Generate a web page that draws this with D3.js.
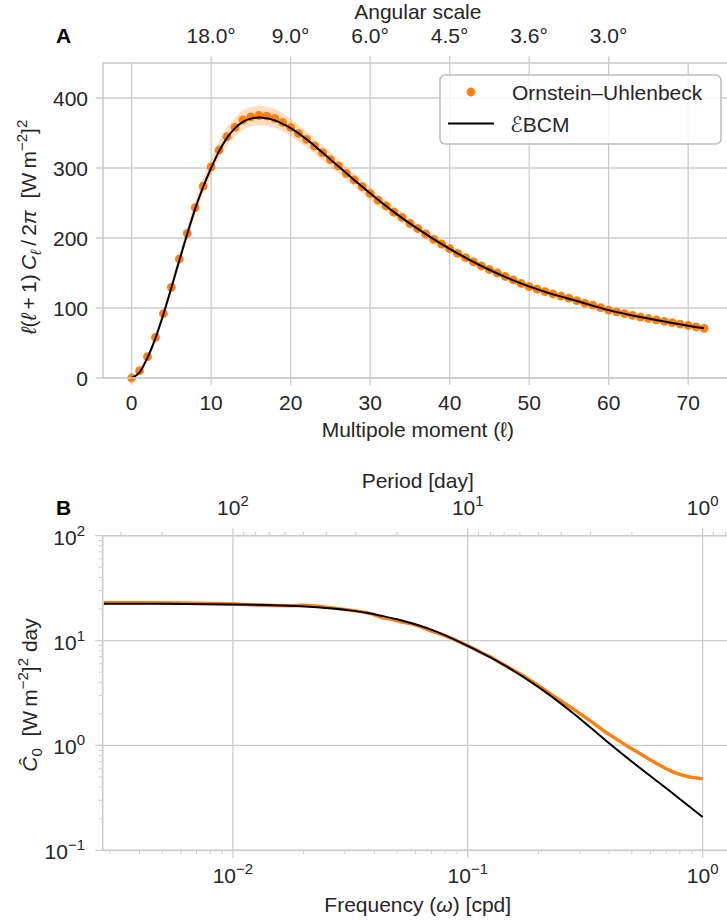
<!DOCTYPE html>
<html>
<head>
<meta charset="utf-8">
<script src="https://cdn.jsdelivr.net/npm/d3@7"></script>
<style>
  body { margin: 0; background: #fff; }
  svg { display: block; }
  text { font-family: 'Liberation Sans', Arial, sans-serif; fill: #262626; white-space: pre; }
</style>
</head>
<body>
<script>
// Panel A: angular power spectrum
const ell = d3.range(0, 73)
const ouPower = [0, 10.5, 30.5, 58, 92, 129.5, 170, 206.7, 243.3, 274,
  301.5, 325.7, 344.8, 358, 368.6, 373, 375, 374, 371, 365,
  358, 349.5, 341, 331.4, 322, 312, 303, 292.4, 282.9, 273.3,
  263.8, 254, 245.7, 237, 229.5, 221, 213.3, 205.7, 198, 191.4,
  184.8, 178, 172, 166, 160, 155, 150, 145, 140, 135,
  130.5, 127, 123.5, 120, 117, 114, 110.5, 107, 104, 100.5,
  97, 94.5, 92, 89.5, 87, 85, 83, 81, 79, 77,
  75, 73, 71]
const ouSpread = [0, 2, 3, 4.5, 6, 7, 8, 9, 10, 11,
  12, 12.5, 13, 13.5, 14, 14, 14, 14, 13.5, 13,
  12.5, 12, 11.5, 11, 11, 10.5, 10, 10, 9.5, 9.5,
  9, 8.5, 8.5, 8, 8, 7.5, 7, 7, 6.5, 6.5,
  6, 6, 5.5, 5.5, 5, 5, 5, 4.5, 4.5, 4.5,
  4, 4, 4, 4, 3.5, 3.5, 3.5, 3.5, 3, 3,
  3, 3, 3, 3, 3, 3, 3, 3, 3, 3,
  3, 3, 3]
const ebcmEll = [0, 1, 2, 3, 4, 5, 6, 7, 8, 9, 10, 11, 12, 13, 14, 15, 16, 17, 18, 19,
  20, 22, 24, 26, 28, 30, 33, 36, 40, 44, 48, 52, 56, 60, 64, 68, 72]
const ebcmPower = [0, 8, 29, 57, 91, 129, 168, 206, 242, 273, 300, 324, 343, 357, 366, 370.5, 372, 371, 368, 363,
  357, 341, 322, 302.5, 283, 264, 237, 213, 184.5, 160, 139.5, 123, 110, 97, 87, 78.5, 71]
const ellTicks = [0, 10, 20, 30, 40, 50, 60, 70]
const powerTicks = [0, 100, 200, 300, 400]
const angEll = [10, 20, 30, 40, 50, 60]
const angLabels = ["18.0°", "9.0°", "6.0°", "4.5°", "3.6°", "3.0°"]

// Panel B: temporal spectrum
const ouFreq = [0.00282, 0.004, 0.006, 0.008, 0.01, 0.012, 0.015, 0.018, 0.02, 0.023,
  0.027, 0.031, 0.035, 0.039, 0.043, 0.047, 0.052, 0.057, 0.063, 0.07,
  0.078, 0.087, 0.095, 0.105, 0.115, 0.125, 0.14, 0.155, 0.17, 0.19,
  0.21, 0.235, 0.26, 0.29, 0.32, 0.35, 0.39, 0.43, 0.48, 0.53,
  0.58, 0.64, 0.7, 0.76, 0.82, 0.88, 0.94, 1.0]
const ouSpec = [23.0, 23.0, 22.8, 22.6, 22.3, 21.9, 21.6, 21.5, 21.8, 21.3,
  20.4, 19.6, 18.9, 18.0, 16.6, 16.0, 15.1, 14.5, 13.6, 12.3,
  11.4, 10.3, 9.4, 8.5, 7.6, 7.0, 6.0, 5.3, 4.7, 4.0,
  3.45, 2.9, 2.5, 2.12, 1.82, 1.58, 1.32, 1.15, 0.98, 0.86,
  0.76, 0.67, 0.6, 0.55, 0.52, 0.5, 0.49, 0.48]
const ebcmFreq = [0.00282, 0.005, 0.0075, 0.01, 0.014, 0.0193, 0.0267, 0.032, 0.0371, 0.0436,
  0.0514, 0.0713, 0.0989, 0.1465, 0.203, 0.282, 0.388, 0.538, 0.745, 1.0]
const ebcmSpec = [22.5, 22.4, 22.25, 22.1, 21.8, 21.3, 20.2, 19.3, 18.4, 17.1,
  15.7, 12.5, 9.0, 5.65, 3.52, 2.02, 1.11, 0.615, 0.35, 0.208]
const freqTicks = [0.01, 0.1, 1]
const freqExp = ["−2", "−1", "0"]
const periodTicks = [100, 10, 1]
const periodExp = ["2", "1", "0"]
const specTicks = [0.1, 1, 10, 100]
const specExp = ["−1", "0", "1", "2"]

const W = 727, H = 922
const orange = "#ff7f0e", gridColor = "#cccccc", FS = 21

const svg = d3.select("body").append("svg").attr("width", W).attr("height", H)
svg.append("rect").attr("width", W).attr("height", H).attr("fill", "#fff")

function sup10(text, exp) {
  text.append("tspan").text("10")
  text.append("tspan").attr("dy", -9).attr("font-size", 15).text(exp)
}

function minors(lo, hi) {
  let out = []
  for (let k = -4; k <= 3; k++)
    for (let m = 2; m <= 9; m++) {
      let v = m * Math.pow(10, k)
      if (v > lo && v < hi) out.push(v)
    }
  return out
}

function mathLabel(text, parts) {
  parts.forEach(p => {
    let s = text.append("tspan").text(p.t)
    if (p.it) s.attr("font-style", "italic")
    if (p.dy) s.attr("dy", p.dy)
    if (p.fs) s.attr("font-size", p.fs)
  })
}

// ---------------- Panel A
const pa = {l: 103, r: 732.7, t: 63, b: 378}
const xA = d3.scaleLinear().domain([-3.6, 75.6]).range([pa.l, pa.r])
const yA = d3.scaleLinear().domain([0, 450]).range([pa.b, pa.t])
const gA = svg.append("g")

gA.selectAll(".gx").data(ellTicks).join("line")
  .attr("x1", d => xA(d)).attr("x2", d => xA(d))
  .attr("y1", pa.t).attr("y2", pa.b + 7)
  .attr("stroke", gridColor).attr("stroke-width", 1.3)
gA.selectAll(".gy").data(powerTicks).join("line")
  .attr("x1", pa.l - 7).attr("x2", pa.r)
  .attr("y1", d => yA(d)).attr("y2", d => yA(d))
  .attr("stroke", gridColor).attr("stroke-width", 1.3)
gA.selectAll(".tt").data(angEll).join("line")
  .attr("x1", d => xA(d)).attr("x2", d => xA(d))
  .attr("y1", pa.t - 7).attr("y2", pa.t)
  .attr("stroke", gridColor).attr("stroke-width", 1.3)

// uncertainty band
const band = d3.area()
  .x(i => xA(ell[i]))
  .y0(i => yA(ouPower[i] - ouSpread[i]))
  .y1(i => yA(ouPower[i] + ouSpread[i]))
  .curve(d3.curveMonotoneX)
gA.append("path").attr("d", band(ell.map((d, i) => i)))
  .attr("fill", orange).attr("fill-opacity", 0.26)

gA.selectAll(".dot").data(ell).join("circle")
  .attr("cx", (d, i) => xA(d)).attr("cy", (d, i) => yA(ouPower[i]))
  .attr("r", 4.4).attr("fill", orange)

const lineA = d3.line().x(i => xA(ebcmEll[i])).y(i => yA(ebcmPower[i])).curve(d3.curveMonotoneX)
gA.append("path").attr("d", lineA(ebcmEll.map((d, i) => i)))
  .attr("fill", "none").attr("stroke", "#000").attr("stroke-width", 2)

gA.append("rect").attr("x", pa.l).attr("y", pa.t)
  .attr("width", pa.r - pa.l).attr("height", pa.b - pa.t)
  .attr("fill", "none").attr("stroke", gridColor).attr("stroke-width", 1.6)

gA.selectAll(".xl").data(ellTicks).join("text")
  .attr("x", d => xA(d)).attr("y", 410).attr("text-anchor", "middle")
  .attr("font-size", FS).text(d => d)
gA.selectAll(".yl").data(powerTicks).join("text")
  .attr("x", 88).attr("y", d => yA(d) + 7.5).attr("text-anchor", "end")
  .attr("font-size", FS).text(d => d)
gA.selectAll(".al").data(angEll).join("text")
  .attr("x", d => xA(d)).attr("y", 43).attr("text-anchor", "middle")
  .attr("font-size", FS).text((d, i) => angLabels[i])

gA.append("text").attr("x", (pa.l + pa.r) / 2).attr("y", 19).attr("text-anchor", "middle")
  .attr("font-size", FS).text("Angular scale")
gA.append("text").attr("x", (pa.l + pa.r) / 2).attr("y", 437).attr("text-anchor", "middle")
  .attr("font-size", FS).text("Multipole moment (ℓ)")
gA.append("text").attr("x", 56).attr("y", 43).attr("font-size", FS)
  .attr("font-weight", "bold").style("fill", "#000").text("A")

const ylabA = gA.append("text").attr("transform", "translate(36,227) rotate(-90)")
  .attr("text-anchor", "middle").attr("font-size", FS)
mathLabel(ylabA, [
  {t: "ℓ", it: 1}, {t: "("}, {t: "ℓ", it: 1}, {t: "\u2009+\u20091)\u2009"}, {t: "C", it: 1},
  {t: "ℓ", it: 1, dy: 5, fs: 15}, {t: "\u2009/\u20092", dy: -5}, {t: "π", it: 1}, {t: "  [W\u2009m"},
  {t: "−2", dy: -9, fs: 15}, {t: "]", dy: 9}, {t: "2", dy: -9, fs: 15}
])

// legend
const lg = gA.append("g")
lg.append("rect").attr("x", 440).attr("y", 75).attr("width", 281).attr("height", 69)
  .attr("rx", 5).attr("fill", "#fff").attr("fill-opacity", 0.8)
  .attr("stroke", "#bdbdbd").attr("stroke-width", 1.5)
lg.append("circle").attr("cx", 471).attr("cy", 92).attr("r", 4.4).attr("fill", orange)
lg.append("line").attr("x1", 448).attr("x2", 494).attr("y1", 123.5).attr("y2", 123.5)
  .attr("stroke", "#000").attr("stroke-width", 2)
lg.append("text").attr("x", 512).attr("y", 100).attr("font-size", FS).text("Ornstein–Uhlenbeck")
const lgt = lg.append("text").attr("x", 510).attr("y", 131.5).attr("font-size", FS)
lgt.append("tspan").attr("font-family", "'DejaVu Sans', sans-serif").attr("font-style", "italic").text("ℰ")
lgt.append("tspan").text("BCM")

// ---------------- Panel B
const pb = {l: 102.7, r: 732.7, t: 535.7, b: 850.3}
const xB = d3.scaleLog().domain([0.00279, 1.343]).range([pb.l, pb.r])
const yB = d3.scaleLog().domain([0.1, 100]).range([pb.b, pb.t])
const gB = svg.append("g")

gB.selectAll(".gx").data(freqTicks).join("line")
  .attr("x1", d => xB(d)).attr("x2", d => xB(d))
  .attr("y1", pb.t - 7.5).attr("y2", pb.b + 7.5)
  .attr("stroke", gridColor).attr("stroke-width", 1.3)
gB.selectAll(".gy").data(specTicks).join("line")
  .attr("x1", pb.l - 7.5).attr("x2", pb.r)
  .attr("y1", d => yB(d)).attr("y2", d => yB(d))
  .attr("stroke", gridColor).attr("stroke-width", 1.3)

const fMin = minors(0.00279, 1.343)
gB.selectAll(".mb").data(fMin).join("line")
  .attr("x1", d => xB(d)).attr("x2", d => xB(d))
  .attr("y1", pb.b).attr("y2", pb.b + 4)
  .attr("stroke", gridColor).attr("stroke-width", 1)
const pMin = minors(1 / 1.343, 1 / 0.00279)
gB.selectAll(".mt").data(pMin).join("line")
  .attr("x1", d => xB(1 / d)).attr("x2", d => xB(1 / d))
  .attr("y1", pb.t - 4).attr("y2", pb.t)
  .attr("stroke", gridColor).attr("stroke-width", 1)
const sMin = minors(0.1, 100)
gB.selectAll(".ml").data(sMin).join("line")
  .attr("x1", pb.l - 4).attr("x2", pb.l)
  .attr("y1", d => yB(d)).attr("y2", d => yB(d))
  .attr("stroke", gridColor).attr("stroke-width", 1)

const lineOU = d3.line().x(i => xB(ouFreq[i])).y(i => yB(ouSpec[i]))
gB.append("path").attr("d", lineOU(ouFreq.map((d, i) => i)))
  .attr("fill", "none").attr("stroke", orange).attr("stroke-width", 3.4)
  .attr("stroke-linejoin", "round")
const lineEB = d3.line().x(i => xB(ebcmFreq[i])).y(i => yB(ebcmSpec[i])).curve(d3.curveMonotoneX)
gB.append("path").attr("d", lineEB(ebcmFreq.map((d, i) => i)))
  .attr("fill", "none").attr("stroke", "#000").attr("stroke-width", 2)

gB.append("rect").attr("x", pb.l).attr("y", pb.t)
  .attr("width", pb.r - pb.l).attr("height", pb.b - pb.t)
  .attr("fill", "none").attr("stroke", gridColor).attr("stroke-width", 1.6)

freqTicks.forEach((f, i) => {
  sup10(gB.append("text").attr("x", xB(f)).attr("y", 883).attr("text-anchor", "middle").attr("font-size", FS), freqExp[i])
})
periodTicks.forEach((p, i) => {
  sup10(gB.append("text").attr("x", xB(1 / p)).attr("y", 515).attr("text-anchor", "middle").attr("font-size", FS), periodExp[i])
})
specTicks.forEach((s, i) => {
  sup10(gB.append("text").attr("x", 85).attr("y", yB(s) + 9).attr("text-anchor", "end").attr("font-size", FS), specExp[i])
})

gB.append("text").attr("x", (pb.l + pb.r) / 2).attr("y", 488).attr("text-anchor", "middle")
  .attr("font-size", FS).text("Period [day]")
const xlabB = gB.append("text").attr("x", (pb.l + pb.r) / 2).attr("y", 912)
  .attr("text-anchor", "middle").attr("font-size", FS)
mathLabel(xlabB, [{t: "Frequency ("}, {t: "ω", it: 1}, {t: ") [cpd]"}])
gB.append("text").attr("x", 56).attr("y", 515).attr("font-size", FS)
  .attr("font-weight", "bold").style("fill", "#000").text("B")

const ylabB = gB.append("text").attr("transform", "translate(37,695) rotate(-90)")
  .attr("text-anchor", "middle").attr("font-size", FS)
mathLabel(ylabB, [
  {t: "Ĉ", it: 1}, {t: "0", dy: 5, fs: 15}, {t: "  [W\u2009m", dy: -5},
  {t: "−2", dy: -9, fs: 15}, {t: "]", dy: 9}, {t: "2", dy: -9, fs: 15}, {t: " day", dy: 9}
])
</script>
</body>
</html>
